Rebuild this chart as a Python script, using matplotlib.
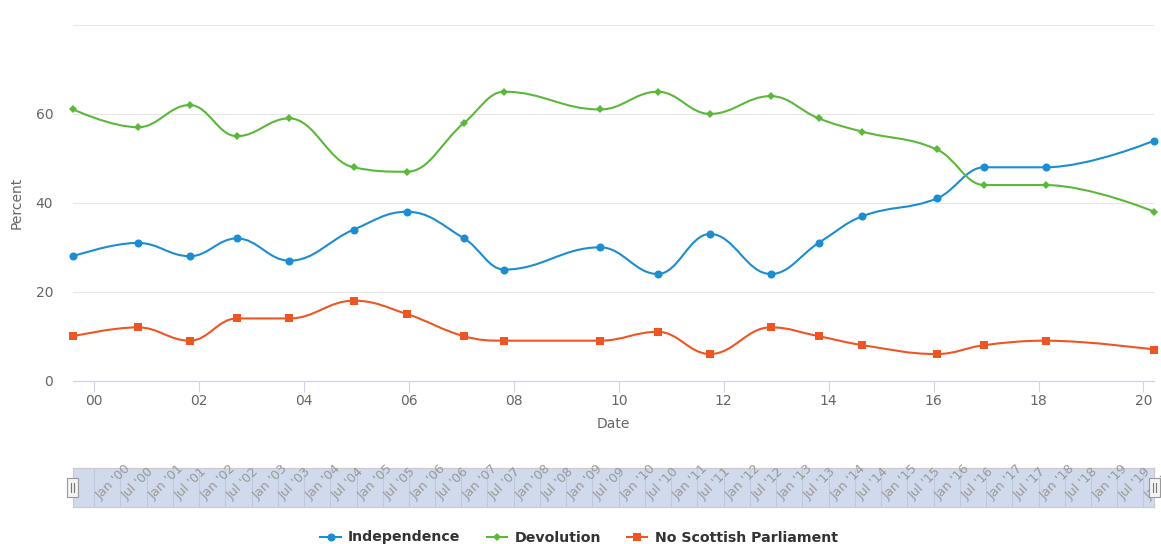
import matplotlib
matplotlib.use("Agg")
import matplotlib.pyplot as plt
import matplotlib.dates as mdates
import matplotlib.transforms as mtransforms
from matplotlib.path import Path
from matplotlib.patches import PathPatch, Rectangle
from matplotlib.lines import Line2D
import numpy as np
import pandas as pd

# Survey fieldwork dates and constitutional preference shares (%)
survey_dates = [
    "1999-08-09", "2000-11-01", "2001-10-28", "2002-09-20", "2003-09-21",
    "2004-12-13", "2005-12-17", "2007-01-20", "2007-10-27", "2009-08-24",
    "2010-09-29", "2011-09-28", "2012-11-23", "2013-10-24", "2014-08-24",
    "2016-01-25", "2016-12-20", "2018-02-20", "2020-03-17",
]
independence = [28, 31, 28, 32, 27, 34, 38, 32, 25, 30, 24, 33, 24, 31, 37, 41, 48, 48, 54]
devolution = [61, 57, 62, 55, 59, 48, 47, 58, 65, 61, 65, 60, 64, 59, 56, 52, 44, 44, 38]
no_parliament = [10, 12, 9, 14, 14, 18, 15, 10, 9, 9, 11, 6, 12, 10, 8, 6, 8, 9, 7]

series_names = ["Independence", "Devolution", "No Scottish Parliament"]
series_colors = ["#1b8dd0", "#5bb83b", "#ef5523"]
series_markers = ["o", "D", "s"]
series_marker_sizes = [5.8, 3.9, 5.8]

y_ticks = [0, 20, 40, 60, 80]
y_tick_labels = ["0", "20", "40", "60", ""]

W, H = 1161, 544
fig = plt.figure(figsize=(W / 100, H / 100), dpi=100)
fig.patch.set_facecolor("white")


def fx(px):
    return px / W


def fy(py):
    return 1 - py / H


PL, PR, PT, PB = 73.3, 1154.3, 25.0, 380.7
ax = fig.add_axes([fx(PL), fy(PB), fx(PR) - fx(PL), fy(PT) - fy(PB)])

dt = pd.to_datetime(survey_dates).to_pydatetime()
xnum = mdates.date2num(dt)


def spline_path(xs, ys, smoothing=1.5):
    """Cubic Bezier path using the same control-point rule as a Highcharts spline."""
    n = len(xs)
    denom = smoothing + 1
    left = [None] * n
    right = [None] * n
    right[0] = (xs[0], ys[0])
    left[n - 1] = (xs[-1], ys[-1])
    for i in range(1, n - 1):
        px, py = xs[i], ys[i]
        lx, ly = xs[i - 1], ys[i - 1]
        nx, ny = xs[i + 1], ys[i + 1]
        lcx = (smoothing * px + lx) / denom
        lcy = (smoothing * py + ly) / denom
        rcx = (smoothing * px + nx) / denom
        rcy = (smoothing * py + ny) / denom
        if rcx != lcx:
            corr = ((rcy - lcy) * (rcx - px)) / (rcx - lcx) + py - rcy
            lcy += corr
            rcy += corr
            if lcy > ly and lcy > py:
                lcy = max(ly, py)
                rcy = 2 * py - lcy
            elif lcy < ly and lcy < py:
                lcy = min(ly, py)
                rcy = 2 * py - lcy
            if rcy > ny and rcy > py:
                rcy = max(ny, py)
                lcy = 2 * py - rcy
            elif rcy < ny and rcy < py:
                rcy = min(ny, py)
                lcy = 2 * py - rcy
        left[i] = (lcx, lcy)
        right[i] = (rcx, rcy)
    verts = [(xs[0], ys[0])]
    codes = [Path.MOVETO]
    for i in range(1, n):
        verts += [right[i - 1], left[i], (xs[i], ys[i])]
        codes += [Path.CURVE4] * 3
    return Path(verts, codes)


# grid and axes styling
ax.set_xlim(xnum[0], xnum[-1])
ax.set_ylim(0, 80)
ax.set_yticks(y_ticks)
ax.set_yticklabels(y_tick_labels)
for v in y_ticks[1:]:
    ax.axhline(v, color="#e6e6e6", lw=0.75, zorder=0)
for s in ["top", "right", "left"]:
    ax.spines[s].set_visible(False)
ax.spines["bottom"].set_color("#ccd6eb")
ax.spines["bottom"].set_linewidth(0.9)
ax.tick_params(axis="y", length=0, pad=14.5, labelsize=10, labelcolor="#666666")
ax.xaxis.set_major_locator(mdates.YearLocator(2))
ax.xaxis.set_major_formatter(mdates.DateFormatter("%y"))
ax.tick_params(axis="x", length=8, width=0.8, color="#ccd6eb", pad=1.5,
               labelsize=10, labelcolor="#666666")
ax.set_facecolor("white")

all_values = [independence, devolution, no_parliament]
handles = []
for vals, name, col, mk, ms in zip(all_values, series_names, series_colors,
                                   series_markers, series_marker_sizes):
    path = spline_path(list(xnum), list(vals))
    ax.add_patch(PathPatch(path, fill=False, edgecolor=col, lw=1.5,
                           capstyle="round", joinstyle="round", zorder=3))
    ax.plot(xnum, vals, linestyle="none", marker=mk, markersize=ms,
            color=col, markeredgewidth=0, clip_on=False, zorder=4)
    handles.append(Line2D([], [], color=col, lw=1.5, marker=mk,
                          markersize=ms, markeredgewidth=0, label=name))

fig.text(fx(17), fy(203), "Percent", rotation=90, ha="center", va="center",
         fontsize=10, color="#666666")
fig.text(fx(613), fy(423.5), "Date", ha="center", va="center",
         fontsize=10, color="#666666")

# navigator strip
NT, NB = 467.7, 506.7
nav = fig.add_axes([fx(PL), fy(NB), fx(PR) - fx(PL), fy(NT) - fy(NB)])
nav.set_xlim(xnum[0], xnum[-1])
nav.set_ylim(0, 1)
nav.set_facecolor("#d1daed")
for s in nav.spines.values():
    s.set_color("#cccccc")
    s.set_linewidth(0.9)
nav.set_xticks([])
nav.set_yticks([])
nav_dates = mdates.MonthLocator(bymonth=[1, 7]).tick_values(dt[0], dt[-1])
nav_ticks = [t for t in nav_dates if xnum[0] <= t <= xnum[-1]]
fmt = mdates.DateFormatter("%b '%y")
blend = mtransforms.blended_transform_factory(nav.transData, nav.transAxes)
shift = mtransforms.ScaledTranslation(6.5 / 100, 6.5 / 100, fig.dpi_scale_trans)
for t in nav_ticks:
    nav.axvline(t, color="#c0c9db", lw=0.8, zorder=1)
    fig.text(t, 0, fmt(t), transform=blend + shift, rotation=45,
             rotation_mode="anchor", ha="left", va="baseline",
             fontsize=9.2, color="#999999", zorder=5)

# range handles at both ends of the navigator
for hx in (PL - 1, PR):
    hy = (NT + NB) / 2
    rect = Rectangle((fx(hx - 5.5), fy(hy + 9.7)), fx(11), 19.4 / H,
                     transform=fig.transFigure, facecolor="#f2f2f2",
                     edgecolor="#999999", lw=0.8, zorder=10)
    fig.add_artist(rect)
    for dx in (-1.5, 1.5):
        fig.add_artist(Line2D([fx(hx + dx), fx(hx + dx)], [fy(hy - 4.5), fy(hy + 4.5)],
                              transform=fig.transFigure, color="#777777",
                              lw=0.8, zorder=11))

leg = fig.legend(handles=handles, loc="center", bbox_to_anchor=(fx(579), fy(537.5)),
                 ncol=3, frameon=False, handlelength=1.45, handletextpad=0.5,
                 columnspacing=1.85, borderpad=0, borderaxespad=0,
                 prop={"size": 10.2, "weight": "bold"})
for txt in leg.get_texts():
    txt.set_color("#333333")

fig.savefig("out.png", dpi=100, facecolor="white")
